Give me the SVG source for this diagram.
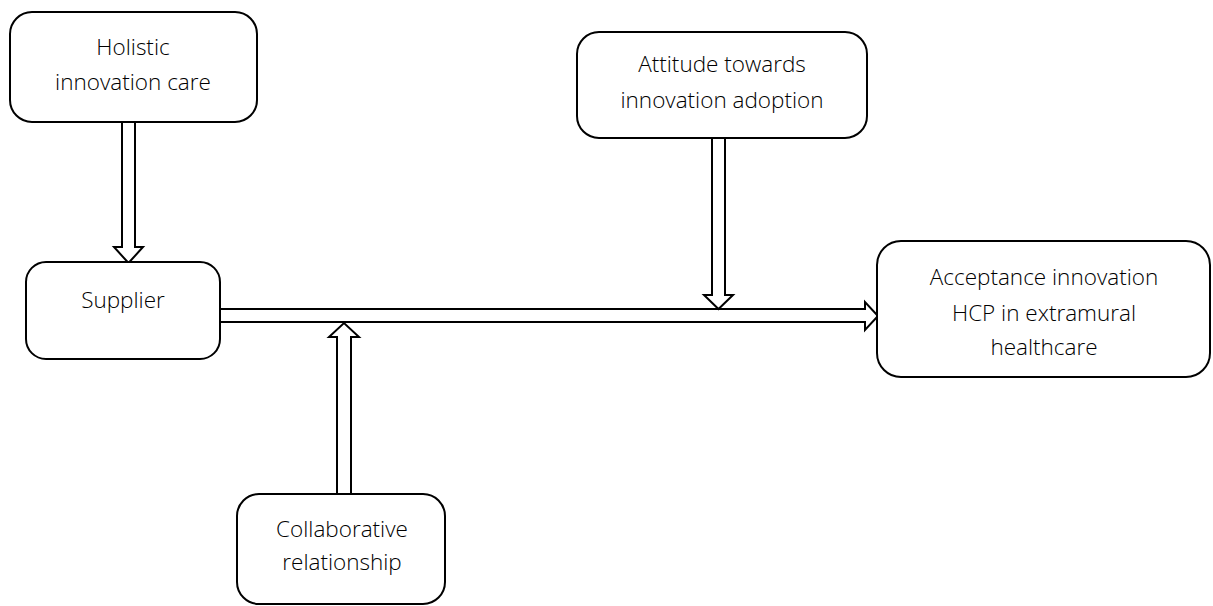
<svg xmlns="http://www.w3.org/2000/svg" width="1213" height="606" viewBox="0 0 1213 606">
  <style>
    .box { fill: #ffffff; stroke: #000000; stroke-width: 2; }
    .lbl { font-family: "Open Sans", "Liberation Sans", sans-serif; font-weight: 300; font-size: 22.5px; fill: #000000; text-anchor: middle; }
    .arrow { fill: #ffffff; stroke: #000000; stroke-width: 2; stroke-linejoin: miter; }
  </style>
  <rect width="1213" height="606" fill="#ffffff"/>

  <!-- block arrows -->
  <g id="connectors">
    <polygon class="arrow" points="122,122 135,122 135,247 143,247 128.5,263 114,247 122,247"/>
    <polygon class="arrow" points="220,309 865,309 865,302 878,316 865,330 865,322 220,322"/>
    <polygon class="arrow" points="712,138 725,138 725,295 733,295 718.5,309 704,295 712,295"/>
    <polygon class="arrow" points="337,494 337,337 329,337 344,323 359,337 351,337 351,494"/>
  </g>

  <g id="node-holistic">
    <rect class="box" x="10" y="12" width="247" height="110" rx="22"/>
    <text class="lbl" x="133" y="55">Holistic</text>
    <text class="lbl" x="133" y="90">innovation care</text>
  </g>

  <g id="node-supplier">
    <rect class="box" x="26" y="262" width="194" height="97" rx="20"/>
    <text class="lbl" x="123" y="308">Supplier</text>
  </g>

  <g id="node-attitude">
    <rect class="box" x="577" y="32" width="290" height="106" rx="22"/>
    <text class="lbl" x="722" y="72">Attitude towards</text>
    <text class="lbl" x="722" y="108">innovation adoption</text>
  </g>

  <g id="node-acceptance">
    <rect class="box" x="877" y="241" width="333" height="136" rx="24"/>
    <text class="lbl" x="1044" y="285">Acceptance innovation</text>
    <text class="lbl" x="1044" y="321">HCP in extramural</text>
    <text class="lbl" x="1044" y="355">healthcare</text>
  </g>

  <g id="node-collaborative">
    <rect class="box" x="237" y="494" width="208" height="110" rx="22"/>
    <text class="lbl" x="342" y="537">Collaborative</text>
    <text class="lbl" x="342" y="570">relationship</text>
  </g>
</svg>
